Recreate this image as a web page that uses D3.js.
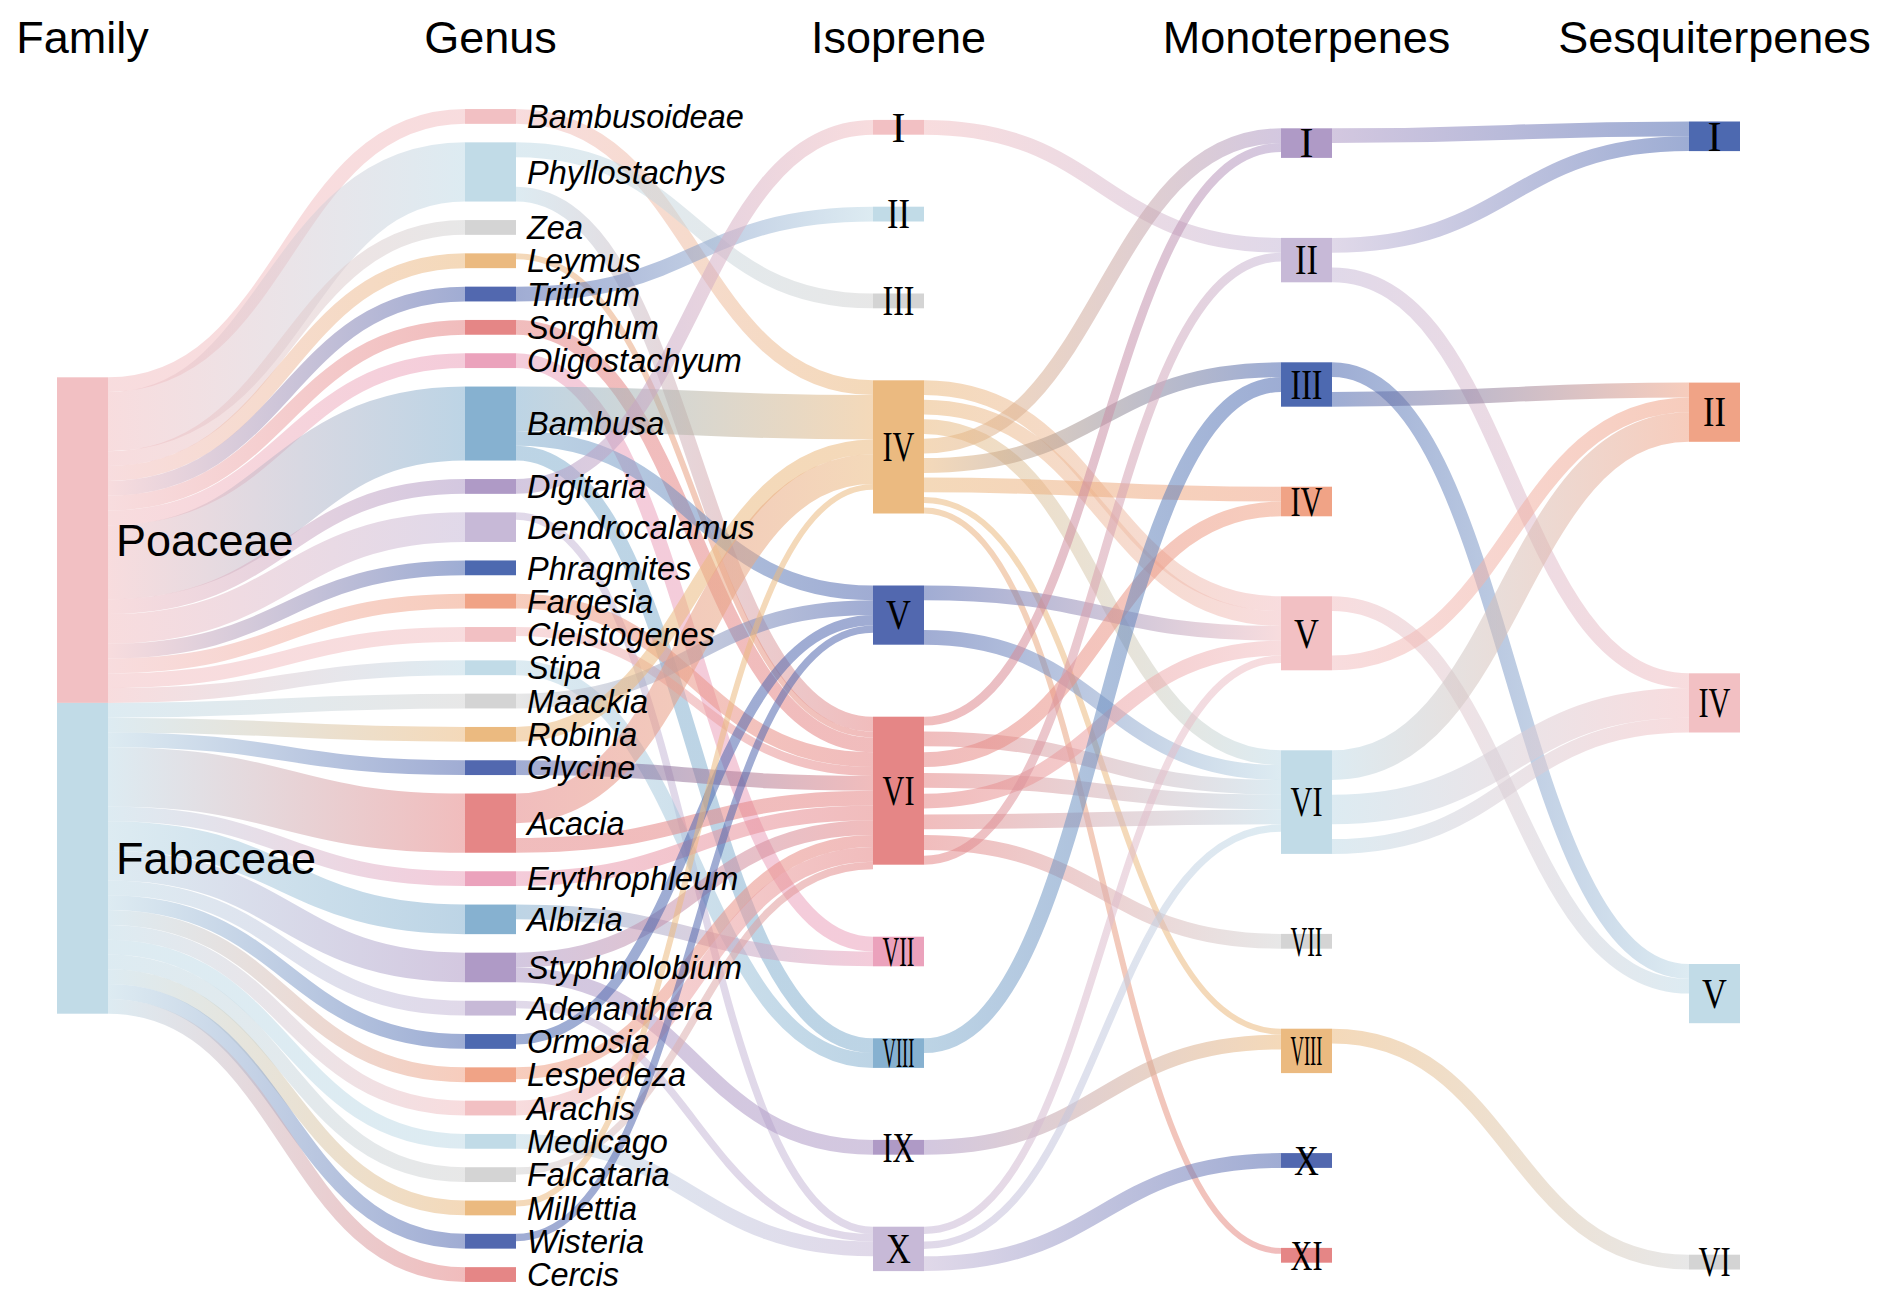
<!DOCTYPE html>
<html>
<head>
<meta charset="utf-8">
<script src="https://cdn.jsdelivr.net/npm/d3@7"></script>
<style>
  body { margin: 0; background: #fff; }
</style>
</head>
<body>
<svg id="chart" width="1892" height="1306"></svg>
<script>
// column titles
var columnTitles = ["Family", "Genus", "Isoprene", "Monoterpenes", "Sesquiterpenes"];

// family
var familyNames = ["Poaceae", "Fabaceae"];
var familyValues = [22, 21];

// genus (family index, value)
var genusNames = ["Bambusoideae", "Phyllostachys", "Zea", "Leymus", "Triticum", "Sorghum", "Oligostachyum",
  "Bambusa", "Digitaria", "Dendrocalamus", "Phragmites", "Fargesia", "Cleistogenes", "Stipa",
  "Maackia", "Robinia", "Glycine", "Acacia", "Erythrophleum", "Albizia", "Styphnolobium", "Adenanthera",
  "Ormosia", "Lespedeza", "Arachis", "Medicago", "Falcataria", "Millettia", "Wisteria", "Cercis"];
var genusFamily = [0, 0, 0, 0, 0, 0, 0, 0, 0, 0, 0, 0, 0, 0,
  1, 1, 1, 1, 1, 1, 1, 1, 1, 1, 1, 1, 1, 1, 1, 1];
var genusValues = [1, 4, 1, 1, 1, 1, 1, 5, 1, 2, 1, 1, 1, 1,
  1, 1, 1, 4, 1, 2, 2, 1, 1, 1, 1, 1, 1, 1, 1, 1];

// isoprene groups
var isoNames = ["I", "II", "III", "IV", "V", "VI", "VII", "VIII", "IX", "X"];
var isoValues = [1, 1, 1, 9, 4, 10, 2, 2, 1, 3];

// monoterpene groups
var monoNames = ["I", "II", "III", "IV", "V", "VI", "VII", "VIII", "X", "XI"];
var monoValues = [2, 3, 3, 2, 5, 7, 1, 3, 1, 1];

// sesquiterpene groups
var sesqNames = ["I", "II", "IV", "V", "VI"];
var sesqValues = [2, 4, 4, 4, 1];

// genus -> isoprene
var genusIsoLinks = [
  ["Bambusoideae", "IV", 1],
  ["Phyllostachys", "III", 1],
  ["Phyllostachys", "VI", 1],
  ["Leymus", "VI", 0.4],
  ["Triticum", "II", 1],
  ["Sorghum", "VI", 1],
  ["Oligostachyum", "VII", 1],
  ["Bambusa", "IV", 3],
  ["Bambusa", "V", 1],
  ["Bambusa", "VIII", 1],
  ["Digitaria", "I", 1],
  ["Dendrocalamus", "X", 0.5],
  ["Fargesia", "VI", 1],
  ["Cleistogenes", "VI", 0.6],
  ["Stipa", "VIII", 1],
  ["Maackia", "V", 1],
  ["Robinia", "IV", 1],
  ["Glycine", "VI", 1],
  ["Acacia", "IV", 2],
  ["Acacia", "VI", 1],
  ["Erythrophleum", "VI", 1],
  ["Albizia", "VII", 1],
  ["Styphnolobium", "VI", 1],
  ["Styphnolobium", "IX", 1],
  ["Adenanthera", "X", 0.5],
  ["Ormosia", "V", 0.7],
  ["Lespedeza", "VI", 0.8],
  ["Arachis", "VI", 1],
  ["Medicago", "X", 1],
  ["Falcataria", "VI", 0.5],
  ["Millettia", "IV", 0.4],
  ["Wisteria", "V", 0.5]
];

// isoprene -> monoterpenes
var isoMonoLinks = [
  ["I", "II", 1],
  ["IV", "V", 1],
  ["IV", "V", 1],
  ["IV", "VI", 1],
  ["IV", "I", 1],
  ["IV", "III", 1],
  ["IV", "IV", 1],
  ["IV", "VIII", 0.4],
  ["IV", "XI", 0.4],
  ["V", "V", 1],
  ["V", "VI", 1],
  ["VI", "I", 0.6],
  ["VI", "VI", 1],
  ["VI", "IV", 1],
  ["VI", "VI", 1],
  ["VI", "V", 1],
  ["VI", "VI", 1],
  ["VI", "VII", 1],
  ["VI", "II", 0.6],
  ["VIII", "III", 1],
  ["IX", "VIII", 1],
  ["X", "V", 0.5],
  ["X", "VI", 0.5],
  ["X", "X", 1]
];

// monoterpenes -> sesquiterpenes
var monoSesqLinks = [
  ["I", "I", 1],
  ["II", "I", 1],
  ["II", "IV", 1],
  ["III", "V", 1],
  ["III", "II", 1],
  ["V", "V", 1],
  ["V", "II", 1],
  ["VI", "II", 2],
  ["VI", "IV", 2],
  ["VI", "IV", 1],
  ["VIII", "VI", 1]
];

var palette = ["#F2C0C3", "#C1DBE7", "#D4D4D4", "#EBBA80", "#5268AF", "#E58686",
  "#EBA2BC", "#86B1D0", "#AF9AC6", "#C7B9D7", "#4D69B0", "#F0A386"];
var colorStart = [0, 0, 0, 8, 10];
var colPad = [0, 18.5, 72, 80, 231.5];
var yMid = 695.5;
var nodeW = 51;

var svg = d3.select("#chart");
var x = d3.scaleLinear().domain([0, 4]).range([57, 1689]);
var h = d3.scaleLinear().domain([0, 1]).range([0, 14.8]);

function makeColumn(c, names, values) {
  var nodes = names.map(function (n, i) {
    return { name: n, col: c, value: values[i], color: palette[(colorStart[c] + i) % palette.length],
      ins: [], outs: [] };
  });
  var total = d3.sum(nodes, function (d) { return h(d.value); }) + (nodes.length - 1) * colPad[c];
  var y = yMid - total / 2;
  nodes.forEach(function (d) {
    d.x0 = x(c); d.x1 = x(c) + nodeW;
    d.y0 = y; d.y1 = y + h(d.value);
    y = d.y1 + colPad[c];
  });
  return nodes;
}

var cols = [
  makeColumn(0, familyNames, familyValues),
  makeColumn(1, genusNames, genusValues),
  makeColumn(2, isoNames, isoValues),
  makeColumn(3, monoNames, monoValues),
  makeColumn(4, sesqNames, sesqValues)
];

function find(c, name) {
  return cols[c].find(function (d) { return d.name === name; });
}

var links = [];
function addLinks(c, list) {
  list.forEach(function (l) {
    var s = find(c, l[0]), t = find(c + 1, l[1]);
    var link = { source: s, target: t, value: l[2], width: h(l[2]) };
    s.outs.push(link); t.ins.push(link);
    links.push(link);
  });
}
addLinks(0, genusNames.map(function (g, i) { return [familyNames[genusFamily[i]], g, genusValues[i]]; }));
addLinks(1, genusIsoLinks);
addLinks(2, isoMonoLinks);
addLinks(3, monoSesqLinks);

// link ends: outgoing spread over the node height, incoming stacked from the top
cols.forEach(function (col) {
  col.forEach(function (n) {
    var used = d3.sum(n.outs, function (l) { return l.width; });
    var gap = n.outs.length > 1 ? Math.max(0, (n.y1 - n.y0 - used) / (n.outs.length - 1)) : 0;
    var y = n.y0;
    n.outs.forEach(function (l) { l.sy = y + l.width / 2; y += l.width + gap; });
    n.ins.sort(function (a, b) { return a.source.y0 - b.source.y0; });
    y = n.y0;
    n.ins.forEach(function (l) { l.ty = y + l.width / 2; y += l.width; });
  });
});

var defs = svg.append("defs");
links.forEach(function (l, i) {
  var g = defs.append("linearGradient")
    .attr("id", "lg" + i)
    .attr("gradientUnits", "userSpaceOnUse")
    .attr("x1", l.source.x1).attr("x2", l.target.x0);
  g.append("stop").attr("offset", "0%").attr("stop-color", l.source.color);
  g.append("stop").attr("offset", "100%").attr("stop-color", l.target.color);
});

var linkPath = d3.linkHorizontal()
  .source(function (d) { return [d.source.x1, d.sy]; })
  .target(function (d) { return [d.target.x0, d.ty]; });

svg.append("g")
  .attr("fill", "none")
  .attr("stroke-opacity", 0.55)
  .selectAll("path")
  .data(links)
  .enter().append("path")
  .attr("d", linkPath)
  .attr("stroke", function (d, i) { return "url(#lg" + i + ")"; })
  .attr("stroke-width", function (d) { return Math.max(1, d.width); });

var allNodes = [].concat.apply([], cols);
svg.append("g")
  .selectAll("rect")
  .data(allNodes)
  .enter().append("rect")
  .attr("x", function (d) { return d.x0; })
  .attr("y", function (d) { return d.y0; })
  .attr("width", nodeW)
  .attr("height", function (d) { return d.y1 - d.y0; })
  .attr("fill", function (d) { return d.color; });

// titles
svg.append("g")
  .selectAll("text")
  .data(columnTitles)
  .enter().append("text")
  .attr("x", function (d, i) { return x(i) + nodeW / 2; })
  .attr("y", 53)
  .attr("text-anchor", "middle")
  .attr("font-family", "Liberation Sans, Arial, sans-serif")
  .attr("font-size", 45)
  .text(function (d) { return d; });

// family labels
svg.append("g")
  .selectAll("text")
  .data(cols[0])
  .enter().append("text")
  .attr("x", function (d) { return d.x1 + 8; })
  .attr("y", function (d) { return (d.y0 + d.y1) / 2; })
  .attr("dy", "0.35em")
  .attr("font-family", "Liberation Sans, Arial, sans-serif")
  .attr("font-size", 45)
  .text(function (d) { return d.name; });

// genus labels
svg.append("g")
  .selectAll("text")
  .data(cols[1])
  .enter().append("text")
  .attr("x", function (d) { return d.x1 + 11; })
  .attr("y", function (d) { return (d.y0 + d.y1) / 2; })
  .attr("dy", "0.36em")
  .attr("font-family", "Liberation Sans, Arial, sans-serif")
  .attr("font-style", "italic")
  .attr("font-size", 32.5)
  .text(function (d) { return d.name; });

// roman numerals inside nodes, a bit condensed
var roman = svg.append("g")
  .selectAll("text")
  .data(cols[2].concat(cols[3], cols[4]))
  .enter().append("text")
  .attr("x", function (d) { return (d.x0 + d.x1) / 2; })
  .attr("y", function (d) { return (d.y0 + d.y1) / 2; })
  .attr("dy", "0.34em")
  .attr("text-anchor", "middle")
  .attr("font-family", "Liberation Serif, Times New Roman, serif")
  .attr("font-size", 42)
  .text(function (d) { return d.name; });

roman.each(function (d) {
  var len = this.getComputedTextLength();
  var w = Math.min(len * 0.82, 32);
  if (d.name.length > 1 || len > 20) {
    d3.select(this).attr("textLength", w).attr("lengthAdjust", "spacingAndGlyphs");
  }
});
</script>
</body>
</html>
